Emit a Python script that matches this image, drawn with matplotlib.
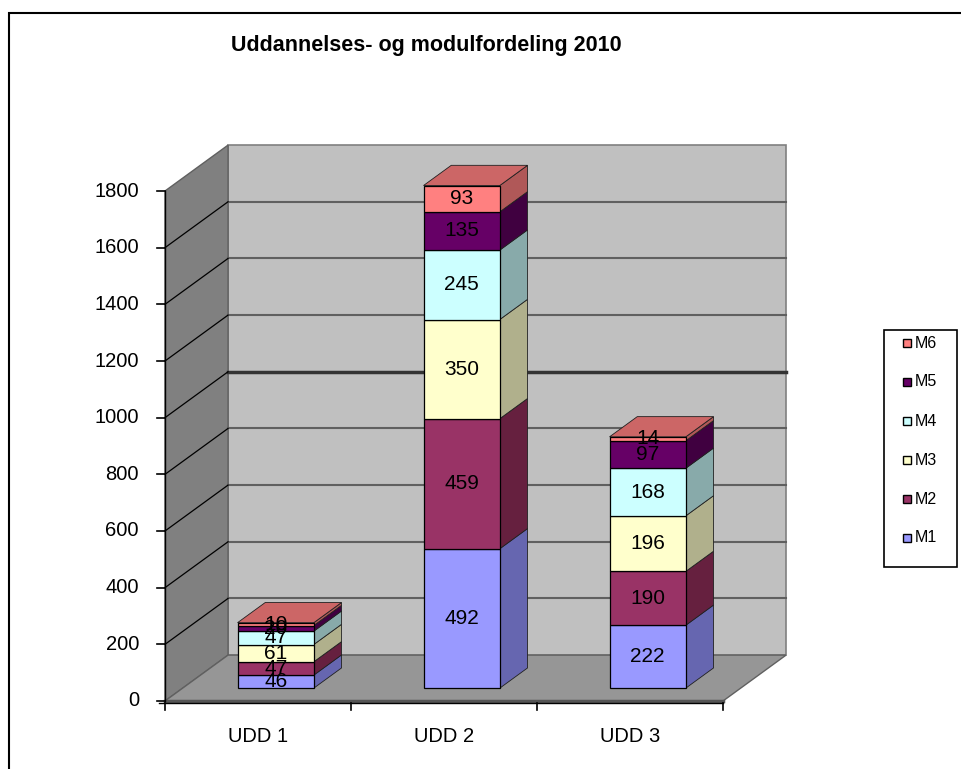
import matplotlib.pyplot as plt
from matplotlib.patches import Polygon, Rectangle

plt.rcParams['font.family'] = ['Liberation Sans', 'DejaVu Sans']

categories = ['UDD 1', 'UDD 2', 'UDD 3']
series = ['M1', 'M2', 'M3', 'M4', 'M5', 'M6']
m1 = [46, 492, 222]
m2 = [47, 459, 190]
m3 = [61, 350, 196]
m4 = [47, 245, 168]
m5 = [20, 135, 97]
m6 = [10, 93, 14]
values = [m1, m2, m3, m4, m5, m6]
y_ticks = list(range(0, 1801, 200))

front = ['#9999FF', '#993366', '#FFFFCC', '#CCFFFF', '#660066', '#FF8080']
side = ['#6666B0', '#66203F', '#B0B08C', '#88AAAA', '#400040', '#B05858']
top = ['#7A7AD0', '#7A2850', '#D8D8A8', '#A8D0D0', '#500050', '#CC6666']

# oblique depth vector (full depth), in data units
DX, DY = 0.339, 162
D0, D1 = 0.28, 0.72
BW = 0.41
YMAX = 1800


def P(x, v, d):
    return (x + d * DX, v + d * DY)


fig = plt.figure(figsize=(9.62, 7.69), dpi=100)
ax = fig.add_axes([165 / 962, (769 - 701) / 769, 558 / 962, 510 / 769])
ax.set_xlim(0, 3)
ax.set_ylim(0, YMAX)
ax.axis('off')

# border of the chart area (only top and left visible)
fig.patches.append(Rectangle((9 / 962, -0.1), 1.2, 1 - 13 / 769 + 0.1,
                             transform=fig.transFigure, fill=False,
                             edgecolor='black', linewidth=1.5))

n = len(categories)
# walls
ax.add_patch(Polygon([P(0, 0, 1), P(n, 0, 1), P(n, YMAX, 1), P(0, YMAX, 1)],
                     closed=True, facecolor='#C0C0C0', edgecolor='#808080',
                     linewidth=1.2, clip_on=False, zorder=1))
ax.add_patch(Polygon([P(0, 0, 0), P(0, 0, 1), P(0, YMAX, 1), P(0, YMAX, 0)],
                     closed=True, facecolor='#808080', edgecolor='#606060',
                     linewidth=1, clip_on=False, zorder=1))
ax.add_patch(Polygon([P(0, 0, 0), P(n, 0, 0), P(n, 0, 1), P(0, 0, 1)],
                     closed=True, facecolor='#969696', edgecolor='#606060',
                     linewidth=1, clip_on=False, zorder=1))
ax.plot([P(0, 0, 0)[0], P(n, 0, 0)[0]], [P(0, 0, 0)[1], P(n, 0, 0)[1]],
        color='#555555', linewidth=2.5, clip_on=False, zorder=2)

# gridlines
for v in y_ticks[1:-1]:
    lw, col = (2.5, '#333333') if v == 1000 else (1.5, '#606060')
    a, b = P(0, v, 1), P(n, v, 1)
    ax.plot([a[0], b[0]], [a[1], b[1]], color=col, linewidth=lw,
            clip_on=False, zorder=2)
    a, b = P(0, v, 0), P(0, v, 1)
    ax.plot([a[0], b[0]], [a[1], b[1]], color='black', linewidth=0.9,
            clip_on=False, zorder=2)

# y axis
ax.plot([0, 0], [0, YMAX], color='black', linewidth=1, clip_on=False, zorder=3)
for v in y_ticks:
    ax.plot([-0.043, 0], [v, v], color='black', linewidth=1.2,
            clip_on=False, zorder=3)
    ax.text(-0.14, v, str(v), ha='right', va='center', fontsize=14.5)

# x axis
ax.plot([-0.03, n], [-8, -8], color='black', linewidth=1, clip_on=False, zorder=3)
for i in range(n + 1):
    ax.plot([i, i], [-8, -30], color='black', linewidth=1.2,
            clip_on=False, zorder=3)
for i, c in enumerate(categories):
    ax.text(i + 0.5, -127, c, ha='center', va='center', fontsize=14.5)

# bars
for i in range(n):
    xl, xr = i + 0.5 - BW / 2, i + 0.5 + BW / 2
    base = 0
    for s in range(len(series)):
        h = values[s][i]
        t = base + h
        ax.add_patch(Polygon([P(xr, base, D0), P(xr, base, D1),
                              P(xr, t, D1), P(xr, t, D0)], closed=True,
                             facecolor=side[s], edgecolor='#202020',
                             linewidth=0.6, clip_on=False, zorder=4))
        ax.add_patch(Polygon([P(xl, base, D0), P(xr, base, D0),
                              P(xr, t, D0), P(xl, t, D0)], closed=True,
                             facecolor=front[s], edgecolor='black',
                             linewidth=0.9, clip_on=False, zorder=5))
        if s == len(series) - 1:
            ax.add_patch(Polygon([P(xl, t, D0), P(xr, t, D0),
                                  P(xr, t, D1), P(xl, t, D1)], closed=True,
                                 facecolor=top[s], edgecolor='#202020',
                                 linewidth=0.6, clip_on=False, zorder=4))
        base = t
    base = 0
    for s in range(len(series)):
        h = values[s][i]
        cx, cy = P(i + 0.5, base + h / 2, D0)
        ax.text(cx, cy, str(h), ha='center', va='center', fontsize=15,
                zorder=6)
        base += h

# title
fig.text(426 / 962, 1 - 45 / 769, 'Uddannelses- og modulfordeling 2010',
         ha='center', va='center', fontsize=15.5, fontweight='bold')

# legend (drawn by hand, top entry M6)
W, H = 962, 769
fig.patches.append(Rectangle((884 / W, 1 - 567 / H), 73 / W, 237 / H,
                             transform=fig.transFigure, facecolor='white',
                             edgecolor='black', linewidth=1.2))
for k, s in enumerate(range(len(series) - 1, -1, -1)):
    yc = 343 + 39 * k
    fig.patches.append(Rectangle((903.5 / W, 1 - (yc + 4) / H), 8 / W, 8 / H,
                                 transform=fig.transFigure,
                                 facecolor=front[s], edgecolor='black',
                                 linewidth=1))
    fig.text(915 / W, 1 - yc / H, series[s], ha='left', va='center',
             fontsize=11.5)

fig.savefig('out.png', dpi=100)
